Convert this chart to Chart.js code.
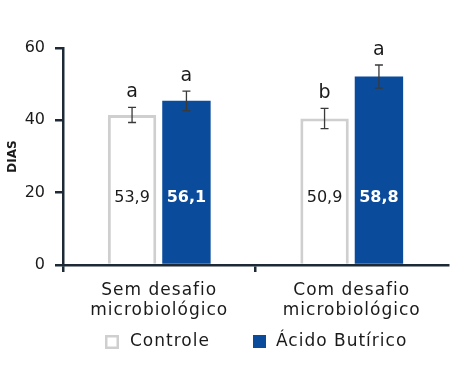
<!DOCTYPE html>
<html><head><meta charset="utf-8">
<script src="https://cdn.jsdelivr.net/npm/chart.js@4/dist/chart.umd.min.js"></script>
<style>html,body{margin:0;padding:0;background:#fff}#wrap{width:461px;height:382px}</style>
</head><body><div id="wrap"><canvas id="c" width="461" height="382"></canvas></div>
<script>
const categories = [['Sem desafio','microbiológico'], ['Com desafio','microbiológico']];
const seriesNames = ['Controle', 'Ácido Butírico'];
const controleValues = [41.5, 40.5];
const butiricoValues = [45.4, 52.1];
const controleErrors = [2.1, 2.8];
const butiricoErrors = [2.7, 3.2];
const controleLetters = ['a', 'b'];
const butiricoLetters = ['a', 'a'];
const controleLabels = ['53,9', '50,9'];
const butiricoLabels = ['56,1', '58,8'];
const yTicks = [0, 20, 40, 60];
const labelLevel = 18.6;

const FONT = "'DejaVu Sans', sans-serif";
const AXIS = '#1d2a35';
const BLUE = '#0a4b9b';
const GRAY = '#cfcfcf';
const TXT = '#1a1a1a';

const spacing = {
  id: 'spacing',
  afterLayout(chart) {
    const s = chart.scales.x;
    if (s && !s._wrapped) {
      const orig = s.drawLabels;
      s.drawLabels = function (ca) {
        const ctx = this.ctx;
        ctx.save();
        ctx.letterSpacing = '1px';
        orig.call(this, ca);
        ctx.restore();
      };
      s._wrapped = true;
    }
  }
};

const extras = {
  id: 'extras',
  afterDatasetsDraw(chart) {
    const ctx = chart.ctx, y = chart.scales.y;
    const sets = [
      {err: controleErrors, let: controleLetters, lab: controleLabels, col: TXT},
      {err: butiricoErrors, let: butiricoLetters, lab: butiricoLabels, col: '#ffffff'}
    ];
    sets.forEach((s, di) => {
      const meta = chart.getDatasetMeta(di);
      meta.data.forEach((bar, i) => {
        const v = chart.data.datasets[di].data[i];
        const x = bar.x;
        const yt = y.getPixelForValue(v + s.err[i]);
        const yb = y.getPixelForValue(v - s.err[i]);
        ctx.save();
        ctx.strokeStyle = '#3a3a3a';
        ctx.lineWidth = 1.3;
        ctx.beginPath();
        ctx.moveTo(x, yt); ctx.lineTo(x, yb);
        ctx.moveTo(x - 4, yt); ctx.lineTo(x + 4, yt);
        ctx.moveTo(x - 4, yb); ctx.lineTo(x + 4, yb);
        ctx.stroke();
        ctx.fillStyle = TXT;
        ctx.font = '19px ' + FONT;
        ctx.textAlign = 'center';
        ctx.textBaseline = 'middle';
        ctx.fillText(s.let[i], x, yt - 15);
        ctx.fillStyle = s.col;
        ctx.font = (di === 1 ? 'bold ' : '') + '16px ' + FONT;
        ctx.fillText(s.lab[i], x, y.getPixelForValue(labelLevel));
        ctx.restore();
      });
    });
    // legend
    ctx.save();
    ctx.letterSpacing = '1px';
    ctx.font = '17px ' + FONT;
    ctx.textBaseline = 'middle';
    ctx.textAlign = 'left';
    const ly = 342;
    ctx.strokeStyle = GRAY; ctx.lineWidth = 2.5;
    ctx.strokeRect(106.25, ly - 5.75, 11.5, 11.5);
    ctx.fillStyle = TXT;
    ctx.fillText(seriesNames[0], 130, ly);
    ctx.fillStyle = BLUE;
    ctx.fillRect(253, ly - 7, 13, 13);
    ctx.fillStyle = TXT;
    ctx.fillText(seriesNames[1], 276, ly);
    ctx.restore();
  }
};

const xGridColor = (c) => (c.index === undefined || c.index >= categories.length) ? 'rgba(0,0,0,0)' : AXIS;

new Chart(document.getElementById('c'), {
  type: 'bar',
  data: {
    labels: categories,
    datasets: [
      {label: seriesNames[0], data: controleValues, backgroundColor: '#ffffff', borderColor: GRAY, borderWidth: 3},
      {label: seriesNames[1], data: butiricoValues, backgroundColor: BLUE, borderColor: BLUE, borderWidth: 0}
    ]
  },
  options: {
    responsive: false,
    animation: false,
    devicePixelRatio: 1,
    categoryPercentage: 0.565,
    barPercentage: 0.89,
    layout: {padding: {top: 48, right: 13, left: 0, bottom: 0}},
    plugins: {legend: {display: false}, tooltip: {enabled: false}},
    scales: {
      x: {
        afterFit(s) { s.height = 117; },
        grid: {drawOnChartArea: false, offset: true, tickLength: 7, lineWidth: 2.5, color: xGridColor, tickColor: xGridColor},
        border: {color: AXIS, width: 2.5},
        ticks: {color: TXT, font: {family: FONT, size: 17, lineHeight: 1.2}, padding: 8}
      },
      y: {
        min: 0, max: 60,
        afterFit(s) { s.width = 63; },
        afterBuildTicks(s) { s.ticks = yTicks.map(v => ({value: v})); },
        grid: {drawOnChartArea: false, tickLength: 8, lineWidth: 2.5, color: AXIS},
        border: {color: AXIS, width: 2.5},
        ticks: {color: TXT, font: {family: FONT, size: 16}, padding: 10},
        title: {display: true, text: 'DIAS', color: TXT, font: {family: FONT, size: 12, weight: 'bold'}, padding: {top: 6, bottom: 0}}
      }
    }
  },
  plugins: [spacing, extras]
});
</script></body></html>
